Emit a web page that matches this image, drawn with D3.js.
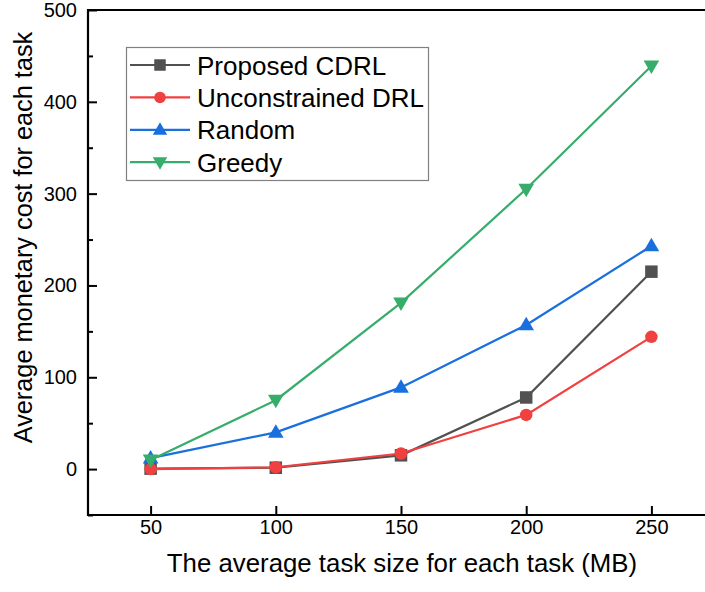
<!DOCTYPE html>
<html>
<head>
<meta charset="utf-8">
<script src="https://cdn.jsdelivr.net/npm/d3@7"></script>
<style>
  html, body { margin: 0; padding: 0; background: #fff; }
  svg { display: block; font-family: "Liberation Sans", Arial, sans-serif; }
</style>
</head>
<body>
<svg id="chart" width="705" height="592"></svg>
<script>
// Task sizes (MB) on the x axis
const taskSizes = [50, 100, 150, 200, 250];

// Average monetary cost per task for each scheme
const proposedCDRL = [0.5, 1.5, 15, 78, 215];
const unconstrainedDRL = [0, 2, 17, 59, 144];
const randomPolicy = [12, 40, 89, 157, 243];
const greedyPolicy = [10, 75, 181, 305, 439];

const seriesNames = ["Proposed CDRL", "Unconstrained DRL", "Random", "Greedy"];
const seriesColors = ["#515151", "#F14040", "#1A6FDF", "#37AD6B"];
const seriesShapes = ["square", "circle", "triangleUp", "triangleDown"];
const seriesValues = [proposedCDRL, unconstrainedDRL, randomPolicy, greedyPolicy];

const xTicks = [50, 100, 150, 200, 250];
const yTicks = [0, 100, 200, 300, 400, 500];
const yMinorTicks = [-50, 50, 150, 250, 350, 450];

const xTitle = "The average task size for each task (MB)";
const yTitle = "Average monetary cost for each task";

const svg = d3.select("#chart");
const margin = { left: 88, top: 10 };
const plotW = 626, plotH = 505;

const x = d3.scaleLinear().domain([25, 275]).range([0, plotW]);
const y = d3.scaleLinear().domain([-50, 500]).range([plotH, 0]);

const g = svg.append("g").attr("transform", `translate(${margin.left},${margin.top})`);

// Minor y ticks (inward, short)
g.append("g")
  .call(d3.axisLeft(y).tickValues(yMinorTicks).tickSize(-5).tickFormat(""))
  .call(a => a.select(".domain").remove())
  .call(a => a.selectAll("line").attr("stroke", "#000").attr("stroke-width", 2));

// Major y axis
g.append("g")
  .call(d3.axisLeft(y).tickValues(yTicks).tickSize(-9).tickPadding(11))
  .call(a => a.select(".domain").remove())
  .call(a => a.selectAll("line").attr("stroke", "#000").attr("stroke-width", 2))
  .call(a => a.selectAll("text").attr("font-size", 20).attr("fill", "#000")
    .attr("font-family", "'Liberation Sans', Arial, sans-serif"));

// x axis
g.append("g")
  .attr("transform", `translate(0,${plotH})`)
  .call(d3.axisBottom(x).tickValues(xTicks).tickSize(-9).tickPadding(5))
  .call(a => a.select(".domain").remove())
  .call(a => a.selectAll("line").attr("stroke", "#000").attr("stroke-width", 2))
  .call(a => a.selectAll("text").attr("font-size", 20).attr("fill", "#000")
    .attr("font-family", "'Liberation Sans', Arial, sans-serif"));

// Frame: left, bottom and top edges
g.append("line").attr("x1", 0).attr("x2", 0).attr("y1", -1).attr("y2", plotH + 1)
  .attr("stroke", "#000").attr("stroke-width", 2.2);
g.append("line").attr("x1", -1).attr("x2", plotW).attr("y1", plotH).attr("y2", plotH)
  .attr("stroke", "#000").attr("stroke-width", 2.2);
g.append("line").attr("x1", -1).attr("x2", plotW).attr("y1", 0).attr("y2", 0)
  .attr("stroke", "#000").attr("stroke-width", 2.2);

// Marker shapes
function markerPath(shape, s) {
  const h = s / 2;
  if (shape === "square") return `M${-h},${-h}H${h}V${h}H${-h}Z`;
  if (shape === "circle") return d3.symbol(d3.symbolCircle, Math.PI * h * h)();
  const tw = s * 1.25 / 2, th = s * 1.08;
  if (shape === "triangleUp") return `M0,${-th * 0.6}L${tw},${th * 0.4}L${-tw},${th * 0.4}Z`;
  return `M0,${th * 0.6}L${tw},${-th * 0.4}L${-tw},${-th * 0.4}Z`;
}

const line = d3.line().x((d, i) => x(taskSizes[i])).y(d => y(d));

seriesValues.forEach((vals, k) => {
  const sg = g.append("g");
  sg.append("path").datum(vals).attr("d", line)
    .attr("fill", "none").attr("stroke", seriesColors[k]).attr("stroke-width", 2.2);
  sg.selectAll("path.m").data(vals).join("path").attr("class", "m")
    .attr("transform", (d, i) => `translate(${x(taskSizes[i])},${y(d)})`)
    .attr("d", markerPath(seriesShapes[k], 12.5))
    .attr("fill", seriesColors[k]);
});

// Legend
const lg = svg.append("g");
lg.append("rect").attr("x", 126.5).attr("y", 47.5).attr("width", 302).attr("height", 133)
  .attr("fill", "#fff").attr("stroke", "#808080").attr("stroke-width", 1.2);
seriesNames.forEach((name, k) => {
  const ry = 65 + k * 32.4;
  lg.append("line").attr("x1", 130).attr("x2", 190).attr("y1", ry).attr("y2", ry)
    .attr("stroke", seriesColors[k]).attr("stroke-width", 2.2);
  lg.append("path").attr("transform", `translate(160,${ry})`)
    .attr("d", markerPath(seriesShapes[k], 11.5)).attr("fill", seriesColors[k]);
  lg.append("text").attr("x", 197).attr("y", ry + 9.5)
    .attr("font-size", 26).attr("fill", "#000").text(name);
});

// Axis titles
svg.append("text").attr("x", 402).attr("y", 572).attr("text-anchor", "middle")
  .attr("font-size", 25.8).attr("fill", "#000").text(xTitle);
svg.append("text").attr("transform", "translate(32,237.5) rotate(-90)")
  .attr("text-anchor", "middle").attr("font-size", 25.3).attr("fill", "#000").text(yTitle);
</script>
</body>
</html>
